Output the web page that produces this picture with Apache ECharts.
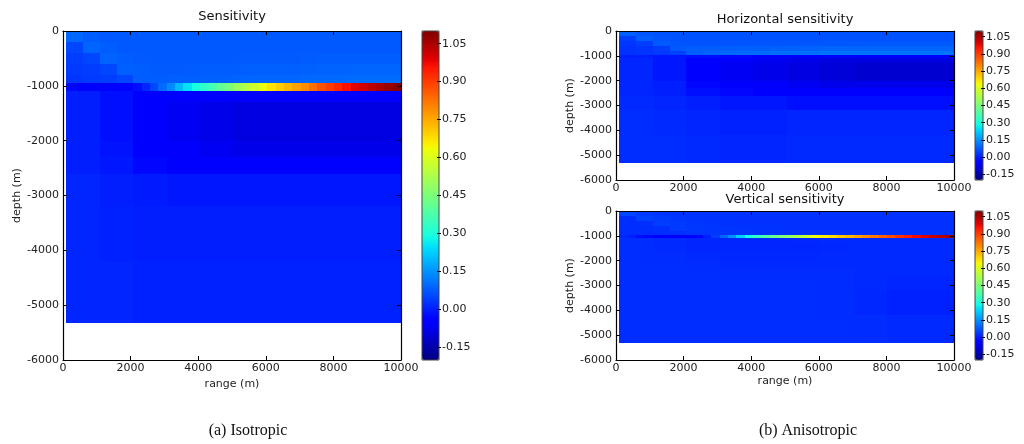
<!DOCTYPE html>
<html>
<head>
<meta charset="utf-8">
<script src="https://cdn.jsdelivr.net/npm/echarts@6/dist/echarts.min.js"></script>
<style>
  html, body { margin: 0; padding: 0; background: #fff; }
  #chart { width: 1024px; height: 444px; }
</style>
</head>
<body>
<div id="chart"></div>
<script>
// data extent (m)
const rangeStart = 100;
const rangeEnd = 10000;
const depthEdges = [0, -200, -400, -600, -800, -950, -1090, -1300, -1600, -2000, -2300, -2600, -3200, -4200, -5330];
const cbTicks = [-0.15, 0, 0.15, 0.30, 0.45, 0.60, 0.75, 0.90, 1.05];
const cbMin = -0.2;
const cbMax = 1.1;

// isotropic sensitivity, one list per depth band (columns split the range evenly)
const isoRows = [
  [0.095, 0.08, 0.076, 0.075, 0.075, 0.075, 0.075, 0.075, 0.075, 0.075, 0.075, 0.075, 0.075, 0.075, 0.075, 0.075, 0.075, 0.075, 0.075, 0.075],
  [0.05, 0.09, 0.08, 0.076, 0.075, 0.075, 0.075, 0.075, 0.075, 0.075, 0.075, 0.075, 0.075, 0.075, 0.075, 0.075, 0.075, 0.075, 0.075, 0.075],
  [0.04, 0.05, 0.088, 0.08, 0.077, 0.076, 0.076, 0.076, 0.076, 0.076, 0.077, 0.077, 0.078, 0.078, 0.079, 0.08, 0.08, 0.08, 0.08, 0.08],
  [0.035, 0.04, 0.05, 0.085, 0.08, 0.078, 0.078, 0.079, 0.08, 0.081, 0.082, 0.083, 0.084, 0.085, 0.086, 0.087, 0.088, 0.089, 0.09, 0.09],
  [0.03, 0.035, 0.04, 0.05, 0.08, 0.082, 0.083, 0.084, 0.085, 0.086, 0.087, 0.089, 0.09, 0.092, 0.094, 0.095, 0.097, 0.098, 0.10, 0.10],
  [-0.03, -0.04, -0.05, -0.055, -0.055, -0.05, -0.045, -0.035, -0.02, 0.01,
   0.05, 0.10, 0.14, 0.20, 0.25, 0.29, 0.33, 0.37, 0.41, 0.45,
   0.50, 0.54, 0.58, 0.63, 0.67, 0.70, 0.73, 0.76, 0.79, 0.83,
   0.87, 0.90, 0.93, 0.96, 0.99, 1.01, 1.03, 1.05, 1.07, 1.09],
  [0.0, -0.02, -0.04, -0.05, -0.05, -0.06, -0.06, -0.06, -0.06, -0.06],
  [0.0, -0.02, -0.05, -0.07, -0.08, -0.09, -0.09, -0.09, -0.09, -0.09],
  [0.0, -0.02, -0.05, -0.07, -0.08, -0.09, -0.09, -0.09, -0.09, -0.09],
  [0.0, -0.015, -0.04, -0.06, -0.07, -0.08, -0.08, -0.08, -0.08, -0.08],
  [0.0, -0.01, -0.03, -0.04, -0.05, -0.05, -0.05, -0.05, -0.05, -0.05],
  [0.01, 0.0, -0.005, -0.01, -0.01, -0.01, -0.01, -0.01, -0.01, -0.01],
  [0.01, 0.005, 0.0, 0.0, 0.0, 0.0, 0.0, 0.0, 0.0, 0.0],
  [0.01, 0.01, 0.005, 0.005, 0.005, 0.005, 0.005, 0.005, 0.005, 0.005]
];

// anisotropic, horizontal component
const horRows = [
  [0.085, 0.07, 0.066, 0.065, 0.065, 0.065, 0.065, 0.065, 0.065, 0.065, 0.065, 0.065, 0.065, 0.065, 0.065, 0.065, 0.065, 0.065, 0.065, 0.065],
  [0.04, 0.08, 0.07, 0.066, 0.065, 0.065, 0.065, 0.065, 0.065, 0.065, 0.065, 0.065, 0.065, 0.065, 0.065, 0.065, 0.065, 0.065, 0.065, 0.065],
  [0.03, 0.04, 0.078, 0.07, 0.068, 0.068, 0.068, 0.069, 0.07, 0.07, 0.071, 0.072, 0.072, 0.073, 0.074, 0.075, 0.075, 0.075, 0.075, 0.075],
  [0.025, 0.03, 0.04, 0.075, 0.08, 0.082, 0.083, 0.084, 0.085, 0.086, 0.087, 0.088, 0.089, 0.09, 0.09, 0.09, 0.09, 0.09, 0.09, 0.09],
  [0.025, 0.03, 0.035, 0.045, 0.08, 0.09, 0.095, 0.098, 0.10, 0.102, 0.104, 0.106, 0.108, 0.11, 0.11, 0.11, 0.11, 0.11, 0.11, 0.11],
  [0.0, -0.01, -0.02, -0.03, -0.04, -0.04, -0.045, -0.05, -0.05, -0.05],
  [0.01, -0.01, -0.04, -0.06, -0.07, -0.08, -0.09, -0.09, -0.09, -0.09],
  [0.01, -0.01, -0.05, -0.07, -0.08, -0.09, -0.10, -0.11, -0.11, -0.11],
  [0.01, -0.01, -0.05, -0.07, -0.08, -0.09, -0.10, -0.11, -0.11, -0.11],
  [0.01, 0.0, -0.03, -0.05, -0.06, -0.07, -0.08, -0.08, -0.08, -0.08],
  [0.01, 0.0, -0.02, -0.03, -0.04, -0.05, -0.05, -0.05, -0.05, -0.05],
  [0.015, 0.01, 0.0, -0.01, -0.01, -0.02, -0.02, -0.02, -0.02, -0.02],
  [0.02, 0.015, 0.01, 0.005, 0.005, 0.01, 0.01, 0.01, 0.01, 0.01],
  [0.02, 0.02, 0.015, 0.01, 0.01, 0.015, 0.015, 0.015, 0.015, 0.015]
];

// anisotropic, vertical component
const verRows = [
  [0.05, 0.035, 0.028, 0.026, 0.025, 0.025, 0.025, 0.025, 0.025, 0.025, 0.025, 0.025, 0.025, 0.025, 0.025, 0.025, 0.025, 0.025, 0.025, 0.025],
  [0.02, 0.045, 0.035, 0.028, 0.026, 0.025, 0.025, 0.025, 0.025, 0.025, 0.025, 0.025, 0.025, 0.025, 0.025, 0.025, 0.025, 0.025, 0.025, 0.025],
  [0.02, 0.022, 0.04, 0.035, 0.03, 0.027, 0.026, 0.025, 0.025, 0.025, 0.025, 0.025, 0.025, 0.025, 0.025, 0.025, 0.025, 0.025, 0.025, 0.025],
  [0.02, 0.02, 0.022, 0.035, 0.032, 0.03, 0.028, 0.027, 0.026, 0.025, 0.025, 0.025, 0.025, 0.025, 0.025, 0.025, 0.025, 0.025, 0.025, 0.025],
  [0.02, 0.02, 0.02, 0.022, 0.03, 0.03, 0.029, 0.028, 0.027, 0.026, 0.025, 0.025, 0.025, 0.025, 0.025, 0.025, 0.025, 0.025, 0.025, 0.025],
  [0.01, 0.0, -0.02, -0.03, -0.04, -0.05, -0.06, -0.06, -0.05, -0.03,
   0.0, 0.04, 0.09, 0.15, 0.23, 0.29, 0.34, 0.38, 0.42, 0.46,
   0.50, 0.54, 0.58, 0.63, 0.66, 0.68, 0.71, 0.73, 0.76, 0.79,
   0.82, 0.85, 0.88, 0.91, 0.94, 0.97, 0.99, 1.02, 1.04, 1.06],
  [0.02, 0.015, 0.01, 0.01, 0.01, 0.012, 0.015, 0.015, 0.015, 0.015],
  [0.02, 0.015, 0.01, 0.01, 0.01, 0.01, 0.012, 0.015, 0.015, 0.015],
  [0.02, 0.018, 0.015, 0.012, 0.012, 0.012, 0.015, 0.015, 0.015, 0.015],
  [0.02, 0.02, 0.018, 0.015, 0.015, 0.015, 0.015, 0.015, 0.015, 0.015],
  [0.02, 0.02, 0.02, 0.018, 0.018, 0.018, 0.018, 0.015, 0.015, 0.015],
  [0.02, 0.02, 0.02, 0.02, 0.02, 0.02, 0.018, 0.015, 0.01, 0.01],
  [0.02, 0.02, 0.02, 0.02, 0.02, 0.02, 0.018, 0.012, 0.005, 0.005],
  [0.02, 0.02, 0.02, 0.02, 0.02, 0.02, 0.02, 0.018, 0.015, 0.015]
];

// matplotlib "jet" colormap
function seg(t, pts) {
  for (let i = 1; i < pts.length; i++) {
    if (t <= pts[i][0]) {
      const a = pts[i - 1], b = pts[i];
      return a[1] + (b[1] - a[1]) * (t - a[0]) / (b[0] - a[0]);
    }
  }
  return pts[pts.length - 1][1];
}
function jet(t) {
  const r = seg(t, [[0, 0], [0.35, 0], [0.66, 1], [0.89, 1], [1, 0.5]]);
  const g = seg(t, [[0, 0], [0.125, 0], [0.375, 1], [0.64, 1], [0.91, 0], [1, 0]]);
  const b = seg(t, [[0, 0.5], [0.11, 1], [0.34, 1], [0.65, 0], [1, 0]]);
  return 'rgb(' + Math.round(r * 255) + ',' + Math.round(g * 255) + ',' + Math.round(b * 255) + ')';
}
const jetColors = [];
for (let i = 0; i <= 64; i++) jetColors.push(jet(i / 64));

function buildCells(rows) {
  const cells = [];
  rows.forEach((vals, r) => {
    const w = (rangeEnd - rangeStart) / vals.length;
    vals.forEach((v, c) => {
      cells.push([rangeStart + c * w, depthEdges[r], rangeStart + (c + 1) * w, depthEdges[r + 1], v]);
    });
  });
  return cells;
}

const font = 'DejaVu Sans';
const lblStyle = { color: '#222', fontSize: 11, fontFamily: font };
const plain = v => String(v);

const grids = [];
const xAxes = [];
const yAxes = [];
const series = [];
const visualMaps = [];

function addPanel(box, cb, rows, showRange) {
  const g = grids.length;
  grids.push({ left: box[0], top: box[1], width: box[2], height: box[3], containLabel: false });
  const line = { show: true, onZero: false, lineStyle: { color: '#000', width: 1.2 } };
  const tickIn = { show: true, inside: true, length: 4, lineStyle: { color: '#000', width: 1 } };
  // mirrored axes sit on the opposite edge (negative offset) so outward ticks point into the plot
  const tickOut = { show: true, inside: false, length: 4, lineStyle: { color: '#000', width: 1 } };
  const xi = xAxes.length;
  xAxes.push({
    gridIndex: g, type: 'value', min: 0, max: 10000, interval: 2000, position: 'bottom',
    name: showRange ? 'range (m)' : '', nameLocation: 'middle', nameGap: 16,
    nameTextStyle: lblStyle, axisLine: line, axisTick: tickIn,
    axisLabel: Object.assign({ margin: 3, formatter: plain }, lblStyle), splitLine: { show: false }, z: 3
  });
  xAxes.push({
    gridIndex: g, type: 'value', min: 0, max: 10000, interval: 2000, position: 'bottom', offset: -box[3],
    axisLine: line, axisTick: tickOut, axisLabel: { show: false }, splitLine: { show: false }, z: 3
  });
  const yi = yAxes.length;
  yAxes.push({
    gridIndex: g, type: 'value', min: -6000, max: 0, interval: 1000, position: 'left',
    name: 'depth (m)', nameLocation: 'middle', nameGap: 38, nameRotate: 90,
    nameTextStyle: lblStyle, axisLine: line, axisTick: tickIn,
    axisLabel: Object.assign({ margin: 4, formatter: plain }, lblStyle), splitLine: { show: false }, z: 3
  });
  yAxes.push({
    gridIndex: g, type: 'value', min: -6000, max: 0, interval: 1000, position: 'left', offset: -box[2],
    axisLine: line, axisTick: tickOut, axisLabel: { show: false }, splitLine: { show: false }, z: 3
  });
  const si = series.length;
  series.push({
    type: 'custom', xAxisIndex: xi, yAxisIndex: yi,
    encode: { x: [0, 2], y: [1, 3] },
    data: buildCells(rows),
    silent: true,
    renderItem: function (params, api) {
      const p0 = api.coord([api.value(0), api.value(1)]);
      const p1 = api.coord([api.value(2), api.value(3)]);
      const x = Math.round(p0[0]), y = Math.round(p0[1]);
      return {
        type: 'rect',
        shape: { x: x, y: y, width: Math.round(p1[0]) - x, height: Math.round(p1[1]) - y },
        style: { fill: api.visual('color') }
      };
    }
  });

  // colorbar
  const cg = grids.length;
  grids.push({
    left: cb[0], top: cb[1], width: cb[2], height: cb[3],
    show: true, borderColor: '#444', borderWidth: 1, backgroundColor: 'transparent', z: 5
  });
  xAxes.push({ gridIndex: cg, type: 'value', min: 0, max: 1, show: false });
  yAxes.push({
    gridIndex: cg, type: 'value', min: cbMin, max: cbMax, position: 'right', z: 6,
    axisLine: { show: false, onZero: false },
    axisTick: { show: true, inside: false, length: 2, customValues: cbTicks, lineStyle: { color: '#000' } },
    axisLabel: Object.assign({ margin: 3, customValues: cbTicks, formatter: v => v.toFixed(2) }, lblStyle),
    splitLine: { show: false }
  });
  yAxes.push({
    gridIndex: cg, type: 'value', min: cbMin, max: cbMax, position: 'left', offset: -cb[2], z: 6,
    axisLine: { show: false, onZero: false },
    axisTick: { show: true, inside: false, length: 2, customValues: cbTicks, lineStyle: { color: '#000' } },
    axisLabel: { show: false },
    splitLine: { show: false }
  });
  visualMaps.push({
    type: 'continuous', seriesIndex: si, dimension: 4, min: cbMin, max: cbMax,
    left: cb[0], top: cb[1], itemWidth: cb[2], itemHeight: cb[3], padding: 0,
    calculable: false, text: null, hoverLink: false, z: 2,
    inRange: { color: jetColors }
  });
}

addPanel([63, 31, 338, 329], [422, 31, 17, 329], isoRows, true);
addPanel([616, 31, 338, 149], [975, 31, 8, 149], horRows, false);
addPanel([616, 211, 338, 149], [975, 211, 8, 149], verRows, true);

function label(text, x, y, size, family) {
  return {
    type: 'text', x: x, y: y, z: 10,
    style: { text: text, fontSize: size, fontFamily: family, fill: '#111', align: 'center', verticalAlign: 'middle' }
  };
}

const chart = echarts.init(document.getElementById('chart'), null, { renderer: 'canvas' });
chart.setOption({
  backgroundColor: '#fff',
  animation: false,
  grid: grids,
  xAxis: xAxes,
  yAxis: yAxes,
  visualMap: visualMaps,
  series: series,
  graphic: [
    label('Sensitivity', 232, 17, 13, font),
    label('Horizontal sensitivity', 785, 20, 13, font),
    label('Vertical sensitivity', 785, 200, 13, font),
    label('(a) Isotropic', 248, 431, 16, 'Liberation Serif'),
    label('(b) Anisotropic', 808, 431, 16, 'Liberation Serif')
  ]
});
</script>
</body>
</html>
